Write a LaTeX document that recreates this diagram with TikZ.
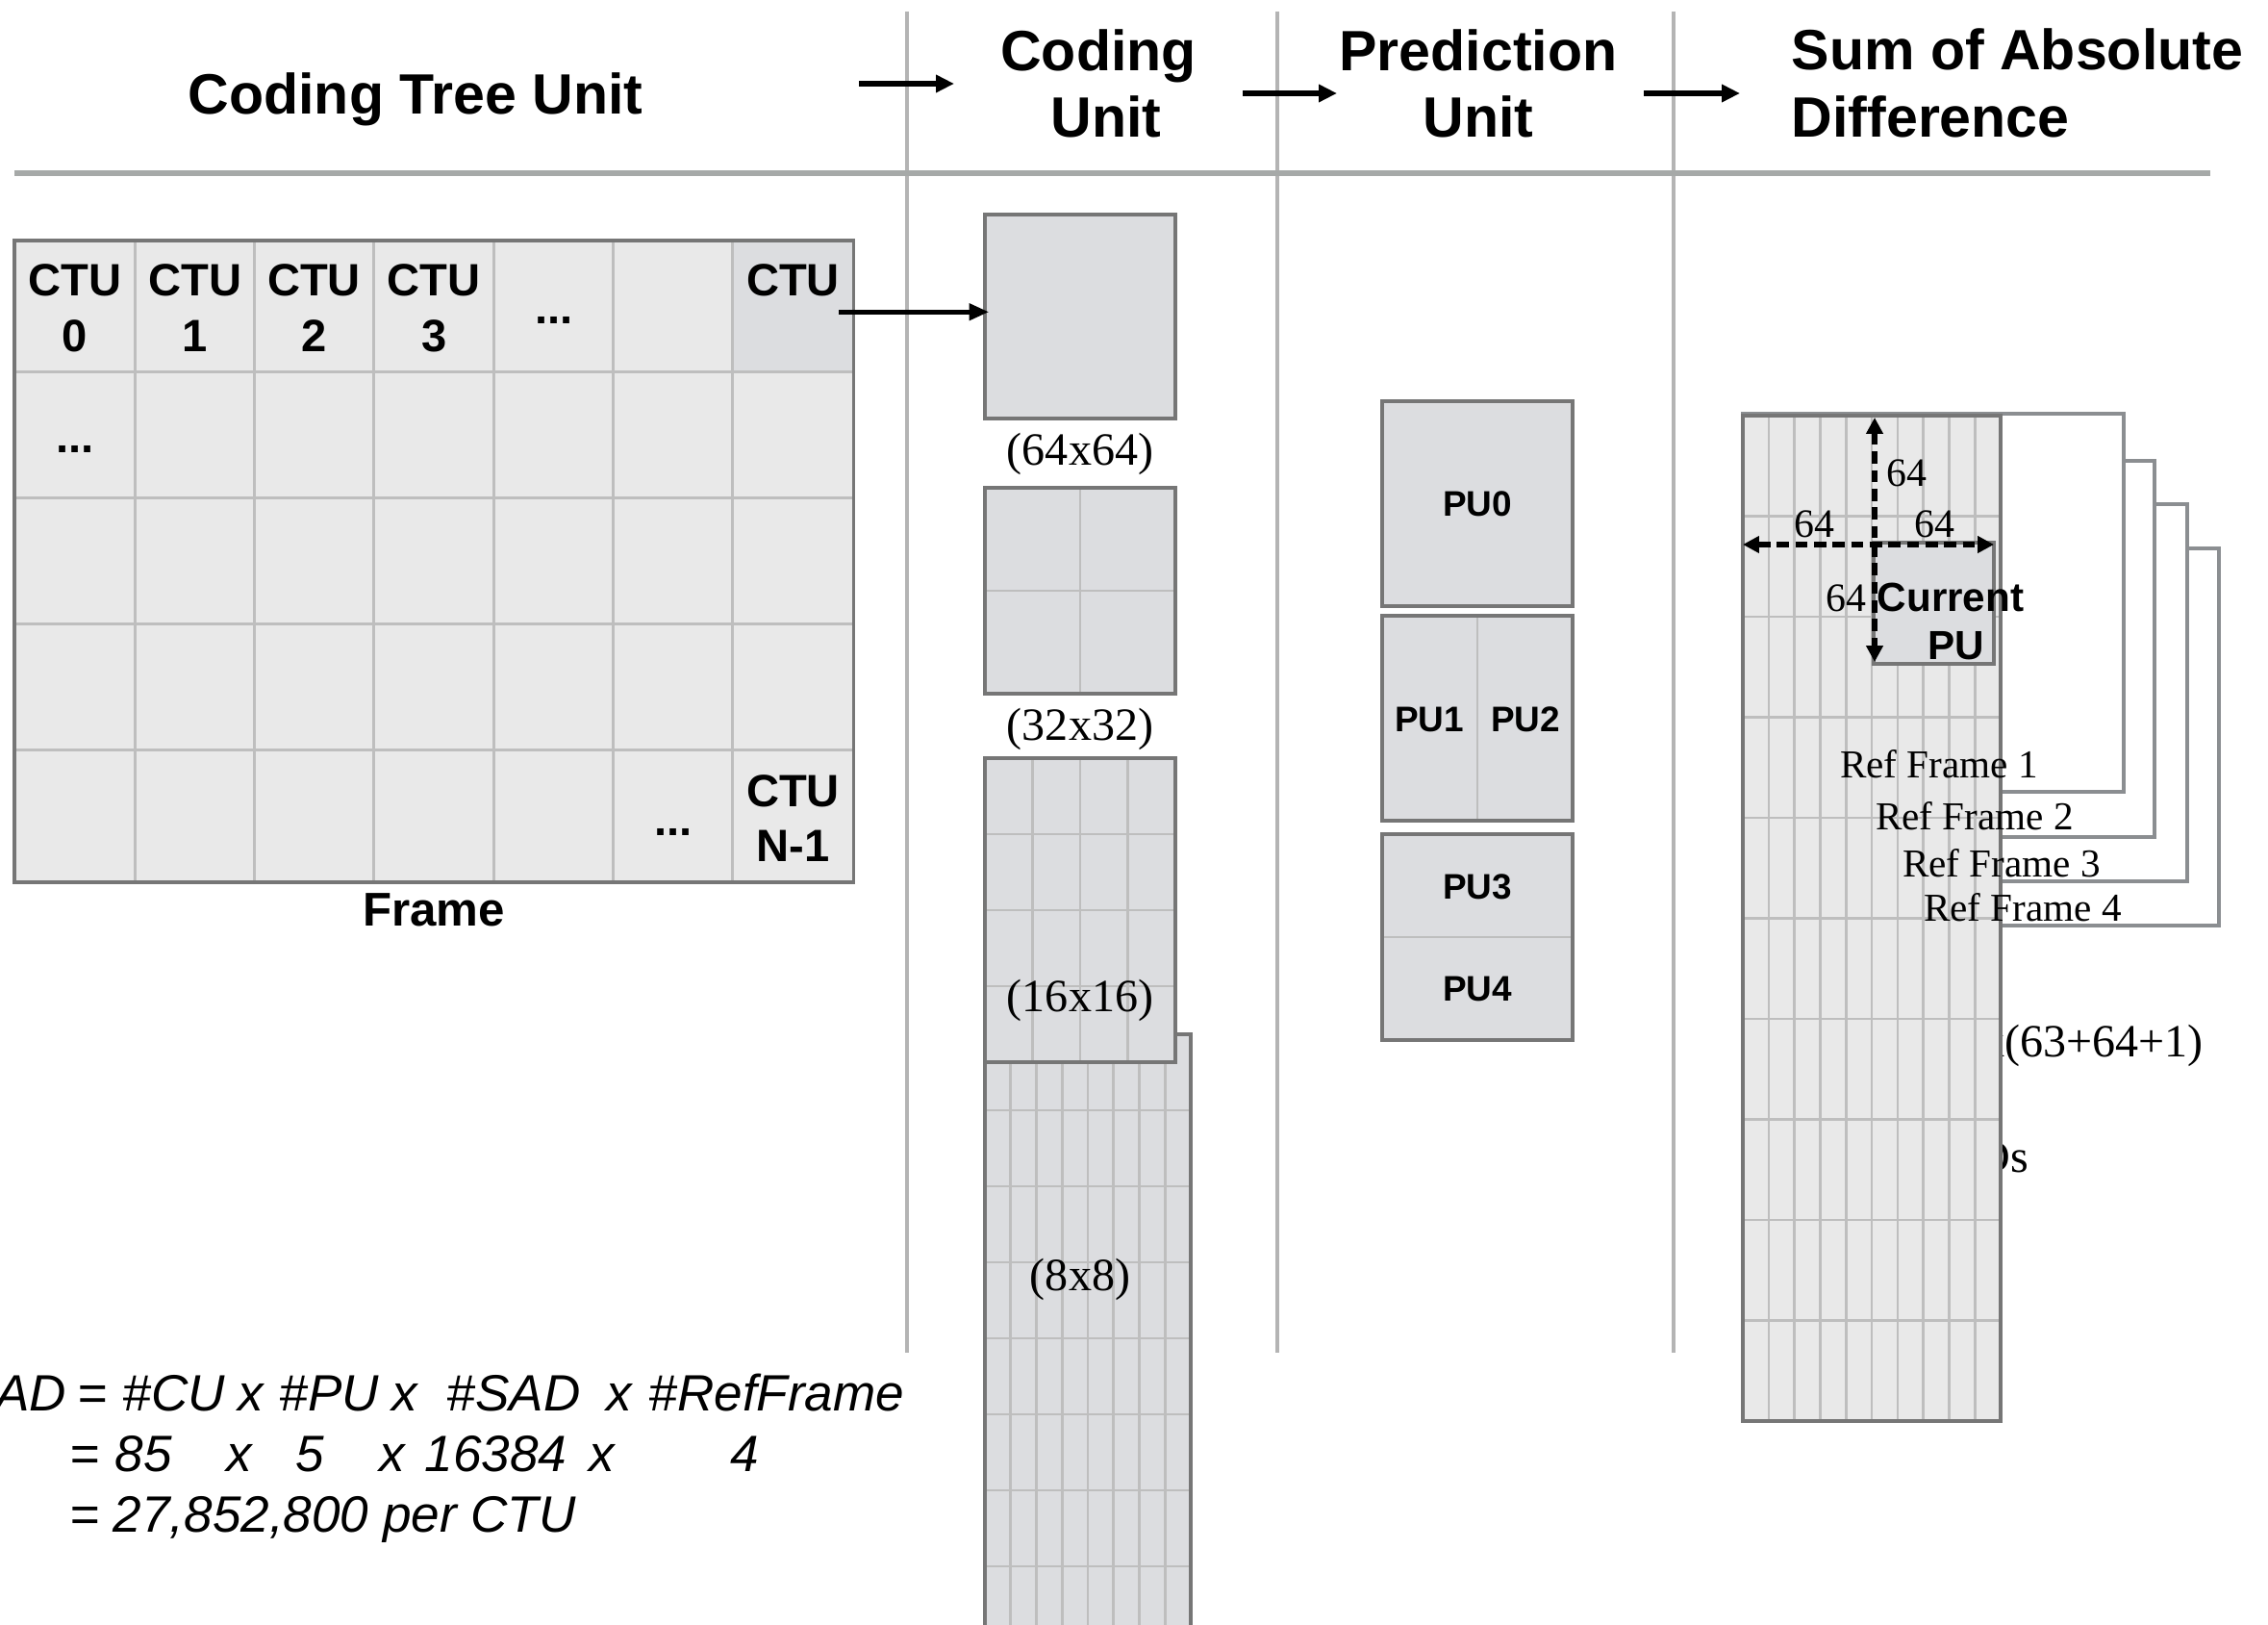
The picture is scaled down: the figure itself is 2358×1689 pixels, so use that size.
\documentclass[tikz,border=0pt]{standalone}
\usepackage{fontspec}
\setmainfont{Liberation Serif}
\setsansfont{Liberation Sans}
\usetikzlibrary{arrows.meta,calc,fit}

\definecolor{cellfill}{HTML}{E9E9E9}
\definecolor{boxfill}{HTML}{DCDDE0}
\definecolor{boxline}{HTML}{767676}
\definecolor{gridline}{HTML}{BEBEBE}
\definecolor{sepline}{HTML}{B4B4B4}
\definecolor{ruleline}{HTML}{A6A9A8}
\definecolor{refline}{HTML}{8B8E91}

\tikzset{
  outline/.style={draw=boxline, line width=1.1pt},
  gridl/.style={draw=gridline, line width=0.75pt},
  sepl/.style={draw=sepline, line width=1.4pt},
  rulel/.style={draw=ruleline, line width=1.5pt},
  refbox/.style={draw=refline, fill=white, line width=1.4pt},
  hdr/.style={font=\sffamily\bfseries\fontsize{16.8pt}{19pt}\selectfont, inner sep=0pt, anchor=base},
  ctulbl/.style={font=\sffamily\bfseries\fontsize{13.4pt}{16pt}\selectfont, inner sep=0pt, anchor=base},
  framelbl/.style={font=\sffamily\bfseries\fontsize{14pt}{16pt}\selectfont, inner sep=0pt, anchor=base},
  pulbl/.style={font=\sffamily\bfseries\fontsize{10.5pt}{12.6pt}\selectfont, inner sep=0pt},
  curlbl/.style={font=\sffamily\bfseries\fontsize{12pt}{14pt}\selectfont, inner sep=0pt, anchor=base},
  sizelbl/.style={font=\fontsize{13.66pt}{16pt}\selectfont, inner sep=0pt},
  dimlbl/.style={font=\fontsize{11.9pt}{14pt}\selectfont, inner sep=0pt},
  reflbl/.style={font=\fontsize{11.7pt}{14pt}\selectfont, inner sep=0pt},
  formula/.style={font=\sffamily\itshape\fontsize{15.1pt}{18pt}\selectfont, inner sep=0pt, anchor=base west},
  hdrarrow/.style={line width=1.8pt, -{Triangle[length=5.4pt,width=5pt]}},
  linkarrow/.style={line width=1.3pt, -{Triangle[length=5.8pt,width=4.8pt]}},
  dimarrow/.style={line width=1.65pt, dash pattern=on 3.6pt off 1.9pt,
    {Triangle[length=4.8pt,width=4.8pt]}-{Triangle[length=4.8pt,width=4.8pt]}},
}

\begin{document}
\begin{tikzpicture}[x=0.01cm, y=-0.01cm]
\path[use as bounding box] (0,0) rectangle (2358,1689);
\clip (0,0) rectangle (2358,1689);

% column separators and header rule
\draw[sepl] (943,12) -- (943,1406);
\draw[sepl] (1328,12) -- (1328,1406);
\draw[sepl] (1740,12) -- (1740,1406);
\draw[rulel] (15,180) -- (2298,180);

% column headings
\node[hdr] (tCTU) at (432,119) {Coding Tree Unit};
\node[hdr] (tCU1) at (1142,74) {Coding};
\node[hdr] (tCU2) at (1150,143) {Unit};
\node[hdr] (tPU1) at (1537,74) {Prediction};
\node[hdr] (tPU2) at (1537,143) {Unit};
\node[hdr, anchor=base west] (tSAD1) at (1862,73) {Sum of Absolute};
\node[hdr, anchor=base west] (tSAD2) at (1862,143) {Difference};

% heading arrows
\coordinate (a1s) at (893,87);  \coordinate (a1e) at (992,87);
\coordinate (a2s) at (1292,97); \coordinate (a2e) at (1390,97);
\coordinate (a3s) at (1709,97); \coordinate (a3e) at (1809,97);
\draw[hdrarrow] (a1s) -- (a1e);
\draw[hdrarrow] (a2s) -- (a2e);
\draw[hdrarrow] (a3s) -- (a3e);

% ---------- frame of CTUs ----------
\fill[cellfill] (15,250) rectangle (887.5,916.6);
\node[fit={(761.5,250) (887.5,386.5)}, inner sep=0pt, fill=boxfill] (ctuN) {};
\foreach \x in {140.7,264.6,388.5,513.7,637.6,761.5}
  \draw[gridl] (\x,250) -- (\x,916.6);
\foreach \y in {386.5,517.6,648.7,779.3}
  \draw[gridl] (15,\y) -- (887.5,\y);
\draw[outline] (15,250) rectangle (887.5,916.6);

\foreach \cx/\d [count=\i] in {77.9/0,202.7/1,326.6/2,451.1/3} {
  \node[ctulbl] (ctu\i) at (\cx,308) {CTU};
  \node[ctulbl] (ctuid\i) at (\cx,366) {\d};
}
\node[ctulbl] (ctuLast) at (824.5,308) {CTU};
\node[ctulbl] (dotsA) at (575.7,337) {...};
\node[ctulbl] (dotsB) at (78,471) {...};
\node[ctulbl] (dotsC) at (700,868) {...};
\node[ctulbl] (ctuEndA) at (824.5,838) {CTU};
\node[ctulbl] (ctuEndB) at (824.5,896) {N-1};
\node[framelbl] (frameLbl) at (451,962) {Frame};

% ---------- coding units ----------
\node[fit={(1024,223) (1222,435)}, inner sep=0pt, fill=boxfill, draw=boxline, line width=1.1pt] (cu64) {};
\node[sizelbl] (l64) at (1123,472) {(64x64)};

\fill[boxfill] (1024,507) rectangle (1222,721);
\draw[gridl] (1123,507) -- (1123,721);
\draw[gridl] (1024,614) -- (1222,614);
\draw[outline] (1024,507) rectangle (1222,721);
\node[sizelbl] (l32) at (1123,758) {(32x32)};

% 8x8 split, partly hidden behind the 16x16 split
\fill[boxfill] (1024,1075) rectangle (1238,1760);
\foreach \k in {1,...,7}
  \draw[gridl] ({1024+26.75*\k},1075) -- ({1024+26.75*\k},1760);
\foreach \k in {1,...,8}
  \draw[gridl] (1024,{1075+79*\k}) -- (1238,{1075+79*\k});
\draw[outline] (1024,1075) rectangle (1238,1760);

\fill[boxfill] (1024,788) rectangle (1222,1104);
\foreach \x in {1073.5,1123,1172.5}
  \draw[gridl] (\x,788) -- (\x,1104);
\foreach \y in {867,946,1025}
  \draw[gridl] (1024,\y) -- (1222,\y);
\draw[outline] (1024,788) rectangle (1222,1104);
\node[sizelbl] (l16) at (1123,1040) {(16x16)};
\node[sizelbl] (l8) at (1123,1330) {(8x8)};

% CTU to CU link
\coordinate (linkS) at ($(ctuN.east)+(-16,6)$);
\coordinate (linkE) at ($(linkS -| cu64.west)+(6,0)$);
\draw[linkarrow] (linkS) -- (linkE);

% ---------- prediction units ----------
\fill[boxfill] (1437,417) rectangle (1635,630);
\draw[outline] (1437,417) rectangle (1635,630);
\node[pulbl] (pu0) at (1536,524) {PU0};

\fill[boxfill] (1437,640) rectangle (1635,853);
\draw[gridl] (1536,640) -- (1536,853);
\draw[outline] (1437,640) rectangle (1635,853);
\node[pulbl] (pu1) at (1486,748) {PU1};
\node[pulbl] (pu2) at (1586,748) {PU2};

\fill[boxfill] (1437,867) rectangle (1635,1081);
\draw[gridl] (1437,974) -- (1635,974);
\draw[outline] (1437,867) rectangle (1635,1081);
\node[pulbl] (pu3) at (1536,922) {PU3};
\node[pulbl] (pu4) at (1536,1028) {PU4};

% ---------- sum of absolute difference ----------
\node[sizelbl, anchor=base east] (sadA) at (2291,1098) {(63+64+1)x(63+64+1)};
\node[sizelbl, anchor=base east] (sadB) at (2110,1218) {16384 SADs};

\draw[refbox] (1812,570) rectangle (2307,962);
\draw[refbox] (1812,524) rectangle (2274,916);
\draw[refbox] (1812,479) rectangle (2240,870);
\draw[refbox] (1812,430) rectangle (2208,823);

\fill[cellfill] (1812,432) rectangle (2080,1477);
\foreach \k in {1,...,9}
  \draw[gridl] ({1812+26.8*\k},432) -- ({1812+26.8*\k},1477);
\foreach \k in {1,...,9}
  \draw[gridl] (1812,{432+104.5*\k}) -- (2080,{432+104.5*\k});
\draw[outline] (1812,432) rectangle (2080,1477);

\node[fit={(1948,564) (2073,690)}, inner sep=0pt, fill=boxfill, draw=boxline, line width=1.1pt] (curPU) {};

\coordinate (vTop) at (1949,434);
\coordinate (vBot) at (1949,688);
\coordinate (hLeft) at (1812,566);
\coordinate (hRight) at (2073,566);
\draw[dimarrow] (vTop) -- (vBot);
\draw[dimarrow] (hLeft) -- (hRight);

\node[dimlbl] (d64a) at (1982,492) {64};
\node[dimlbl] (d64b) at (1886,545) {64};
\node[dimlbl] (d64c) at (2011,545) {64};
\node[dimlbl] (d64d) at (1919,622) {64};

\node[curlbl] (curA) at (2028,636) {Current};
\node[curlbl] (curB) at (2034,686) {PU};

\node[reflbl] (rf1) at (2016,794) {Ref Frame 1};
\node[reflbl] (rf2) at (2053,848) {Ref Frame 2};
\node[reflbl] (rf3) at (2081,897) {Ref Frame 3};
\node[reflbl] (rf4) at (2103,943) {Ref Frame 4};

% ---------- SAD count ----------
\node[formula, anchor=base east] (fA0) at (70,1466) {\#SAD};
\foreach \px/\tx [count=\i] in {80/{=},127/{\#CU},247/{x},290/{\#PU},407/{x},464/{\#SAD},630/{x},674/{\#RefFrame}}
  \node[formula] (fA\i) at (\px,1466) {\tx};
\foreach \px/\tx [count=\i] in {72/{=},119/{85},235/{x},307/{5},394/{x},441/{16384},612/{x},759/{4}}
  \node[formula] (fB\i) at (\px,1529) {\tx};
\node[formula] (fC1) at (72,1592) {=};
\node[formula] (fC2) at (117,1592) {27,852,800 per CTU};
\end{tikzpicture}
\end{document}
